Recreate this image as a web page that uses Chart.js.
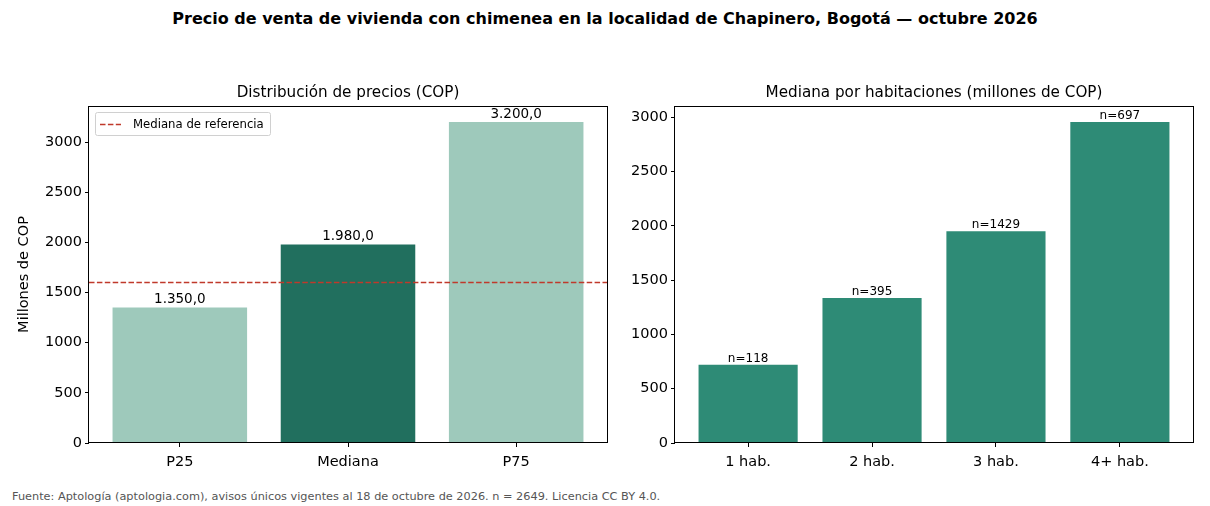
<!DOCTYPE html>
<html>
<head>
<meta charset="utf-8">
<script src="https://cdn.jsdelivr.net/npm/chart.js@4.4.1/dist/chart.umd.min.js"></script>
<style>
    body { margin: 0; background: #fff; font-family: 'DejaVu Sans', sans-serif; }
    #page { position: relative; width: 1210px; height: 506px; overflow: hidden; }
    #suptitle { position: absolute; top: 9px; left: 0; width: 1210px; text-align: center; font-weight: bold; font-size: 16px; color: #000; }
    #footer { position: absolute; top: 490px; left: 12px; font-size: 11.3px; color: #555; }
    .box { position: absolute; top: 60px; height: 430px; }
</style>
</head>
<body>
<div id="page">
    <div id="suptitle">Precio de venta de vivienda con chimenea en la localidad de Chapinero, Bogotá — octubre 2026</div>
    <div class="box" style="left:0; width:620px;"><canvas id="precios"></canvas></div>
    <div class="box" style="left:620px; width:590px;"><canvas id="habitaciones"></canvas></div>
    <div id="footer">Fuente: Aptología (aptologia.com), avisos únicos vigentes al 18 de octubre de 2026. n = 2649. Licencia CC BY 4.0.</div>
</div>
<script>
// datos del panel izquierdo
var percentilLabels = ['P25', 'Mediana', 'P75'];
var percentilValues = [1350, 1980, 3200];
var medianaReferencia = 1600;

// datos del panel derecho
var habLabels = ['1 hab.', '2 hab.', '3 hab.', '4+ hab.'];
var habValues = [720, 1335, 1950, 2955];
var habCounts = [118, 395, 1429, 697];

// marcas del eje y
var yTicks = [0, 500, 1000, 1500, 2000, 2500, 3000];

Chart.defaults.font.family = "'DejaVu Sans', sans-serif";
Chart.defaults.color = '#000';

// formato 1.350,0
function formatoES(v) {
    var entero = Math.floor(v).toString().replace(/\B(?=(\d{3})+(?!\d))/g, '.');
    return entero + ',' + (v % 1).toFixed(1).slice(2);
}

// marco tipo matplotlib + título del panel
var marcoPlugin = {
    id: 'marco',
    afterDraw: function (chart, args, opts) {
        var ctx = chart.ctx, a = chart.chartArea;
        ctx.save();
        ctx.strokeStyle = '#000';
        ctx.lineWidth = 1;
        ctx.strokeRect(Math.round(a.left) - 0.5, Math.round(a.top) + 0.5,
            Math.round(a.right - a.left) + 1, Math.round(a.bottom - a.top) - 1);
        ctx.fillStyle = '#000';
        ctx.font = "15.2px 'DejaVu Sans'";
        ctx.textAlign = 'center';
        ctx.textBaseline = 'middle';
        ctx.fillText(opts.titulo, (a.left + a.right) / 2, a.top - 12.5);
        ctx.restore();
    },
};

// etiquetas sobre las barras
var etiquetasPlugin = {
    id: 'etiquetas',
    afterDatasetsDraw: function (chart, args, opts) {
        var ctx = chart.ctx;
        var meta = chart.getDatasetMeta(0);
        ctx.save();
        ctx.fillStyle = '#000';
        ctx.font = opts.size + "px 'DejaVu Sans'";
        ctx.textAlign = 'center';
        ctx.textBaseline = 'bottom';
        meta.data.forEach(function (bar, i) {
            ctx.fillText(opts.texto(i), bar.x, bar.y - opts.gap);
        });
        ctx.restore();
    },
};

// línea de referencia y leyenda
var referenciaPlugin = {
    id: 'referencia',
    afterDatasetsDraw: function (chart, args, opts) {
        if (!opts.valor) return;
        var ctx = chart.ctx, a = chart.chartArea;
        var y = chart.scales.y.getPixelForValue(opts.valor);
        ctx.save();
        ctx.strokeStyle = '#c0392b';
        ctx.lineWidth = 1.5;
        ctx.setLineDash([5.5, 2.4]);
        ctx.beginPath();
        ctx.moveTo(a.left, y);
        ctx.lineTo(a.right, y);
        ctx.stroke();

        // leyenda
        var lx = a.left + 6, ly = a.top + 6, lw = 175, lh = 23;
        ctx.setLineDash([]);
        ctx.fillStyle = 'rgba(255,255,255,0.8)';
        ctx.strokeStyle = '#d0d0d0';
        ctx.lineWidth = 1;
        ctx.beginPath();
        ctx.roundRect(lx + 0.5, ly + 0.5, lw, lh, 2);
        ctx.fill();
        ctx.stroke();
        ctx.strokeStyle = '#c0392b';
        ctx.lineWidth = 1.5;
        ctx.setLineDash([5.5, 2.4]);
        ctx.beginPath();
        ctx.moveTo(lx + 5, ly + 12.5);
        ctx.lineTo(lx + 26, ly + 12.5);
        ctx.stroke();
        ctx.fillStyle = '#000';
        ctx.font = "11.7px 'DejaVu Sans'";
        ctx.textAlign = 'left';
        ctx.textBaseline = 'middle';
        ctx.fillText('Mediana de referencia', lx + 38, ly + 13);
        ctx.restore();
    },
};

function crearPanel(canvasId, labels, values, colores, opciones) {
    var n = labels.length;
    var margen = 0.05 * (n - 1 + 0.8);
    var yMax = Math.max.apply(null, values) * 1.05;
    return new Chart(document.getElementById(canvasId), {
        type: 'bar',
        data: {
            datasets: [{
                data: values.map(function (v, i) { return { x: i, y: v }; }),
                backgroundColor: colores,
                barPercentage: 0.8,
                categoryPercentage: 1,
            }],
        },
        options: {
            responsive: true,
            maintainAspectRatio: false,
            animation: false,
            layout: { padding: { left: 0, top: 46, right: opciones.derecha, bottom: 0 } },
            scales: {
                x: {
                    type: 'linear',
                    offset: false,
                    min: -0.4 - margen,
                    max: n - 1 + 0.4 + margen,
                    afterBuildTicks: function (scale) {
                        scale.ticks = labels.map(function (l, i) { return { value: i }; });
                    },
                    afterFit: function (scale) { scale.height = 47; },
                    ticks: {
                        callback: function (v) { return labels[v]; },
                        font: { size: 14.5 },
                        padding: 7,
                        maxRotation: 0,
                        autoSkip: false,
                    },
                    grid: { display: true, drawOnChartArea: false, tickLength: 4, color: '#000', offset: false },
                    border: { display: false },
                },
                y: {
                    min: 0,
                    max: yMax,
                    afterBuildTicks: function (scale) {
                        scale.ticks = yTicks
                            .filter(function (t) { return t <= yMax; })
                            .map(function (t) { return { value: t }; });
                    },
                    afterFit: function (scale) { scale.width = opciones.izquierda; },
                    ticks: {
                        callback: function (v) { return String(v); },
                        font: { size: 14.5 },
                        padding: 3,
                    },
                    grid: { display: true, drawOnChartArea: false, tickLength: 4, color: '#000' },
                    border: { display: false },
                    title: {
                        display: !!opciones.tituloY,
                        text: opciones.tituloY,
                        font: { size: 14.5 },
                        padding: { top: 16, bottom: 0 },
                    },
                },
            },
            plugins: {
                legend: { display: false },
                tooltip: { enabled: false },
                marco: { titulo: opciones.titulo },
                etiquetas: { size: opciones.tamEtiqueta, texto: opciones.texto, gap: opciones.separacion },
                referencia: { valor: opciones.referencia },
            },
        },
        plugins: [marcoPlugin, etiquetasPlugin, referenciaPlugin],
    });
}

crearPanel('precios', percentilLabels, percentilValues, ['#9ec9bb', '#216f5e', '#9ec9bb'], {
    titulo: 'Distribución de precios (COP)',
    tituloY: 'Millones de COP',
    izquierda: 89,
    derecha: 13,
    tamEtiqueta: 13.5,
    separacion: 1,
    texto: function (i) { return formatoES(percentilValues[i]); },
    referencia: medianaReferencia,
});

crearPanel('habitaciones', habLabels, habValues, '#2e8b76', {
    titulo: 'Mediana por habitaciones (millones de COP)',
    tituloY: '',
    izquierda: 55,
    derecha: 17,
    tamEtiqueta: 12,
    separacion: 0,
    texto: function (i) { return 'n=' + habCounts[i]; },
    referencia: null,
});
</script>
</body>
</html>
